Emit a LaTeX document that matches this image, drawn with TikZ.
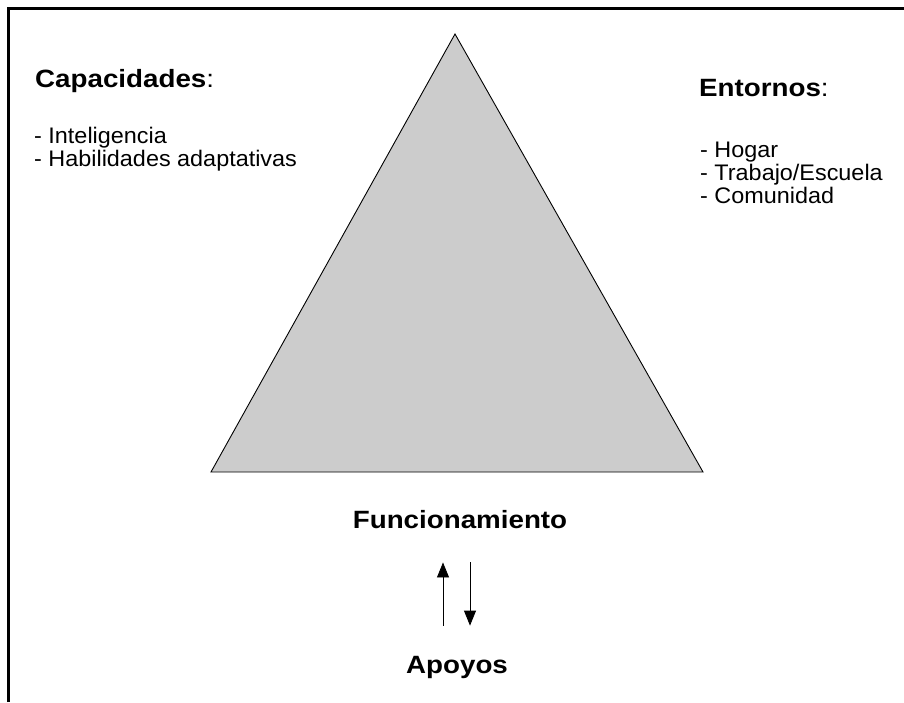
\documentclass[tikz,border=0pt]{standalone}
\usepackage{fontspec}
\setmainfont{Liberation Sans}
\newfontfamily\textofont{Liberation Sans}[FakeStretch=1.04]
\newfontfamily\titulofont{Liberation Sans}[FakeStretch=1.11]
\usepackage{tikz}
\usetikzlibrary{arrows.meta,calc,positioning}
\definecolor{grisfondo}{RGB}{204,204,204}

\begin{document}
\begin{tikzpicture}[x=1pt, y=-1pt,
  titulo/.style={inner sep=0pt, font=\titulofont\fontsize{25}{28}\selectfont},
  lista/.style={inner sep=0pt, anchor=base west, font=\textofont\fontsize{22.5}{24}\selectfont},
  flecha/.style={line width=0.8pt, -{Triangle[length=15pt,width=12pt]}}]
\useasboundingbox (0,0) rectangle (904,702);
%--- marco ---
\draw[line width=2.6pt] (8.5,702) -- (8.5,8.5) -- (904,8.5);
%--- triangulo ---
\draw[fill=grisfondo, line width=0.9pt] (455,34) -- (703,472) -- (211,472) -- cycle;
%--- capacidades ---
\node[titulo, anchor=base west] (capac) at (35,87) {\textbf{Capacidades}:};
\node[lista] (intel) at (34,143) {- Inteligencia};
\node[lista] (habil) at (34,166) {- Habilidades adaptativas};
%--- entornos ---
\node[titulo, anchor=base west] (entor) at (699,96) {\textbf{Entornos}:};
\node[lista] (hogar) at (700,157) {- Hogar};
\node[lista] (trab) at (700,180) {- Trabajo/Escuela};
\node[lista] (comun) at (700,203) {- Comunidad};
%--- funcionamiento y apoyos ---
\node[titulo, anchor=base] (func) at (460,528) {\textbf{Funcionamiento}};
\node[titulo, anchor=base] (apoyos) at (457,673) {\textbf{Apoyos}};
\draw[flecha, shorten <=30pt, shorten >=34pt] (apoyos.north -| 443,0) -- (func.south -| 443,0);
\draw[flecha, shorten <=34pt, shorten >=30pt] (func.south -| 470,0) -- (apoyos.north -| 470,0);
\end{tikzpicture}
\end{document}
